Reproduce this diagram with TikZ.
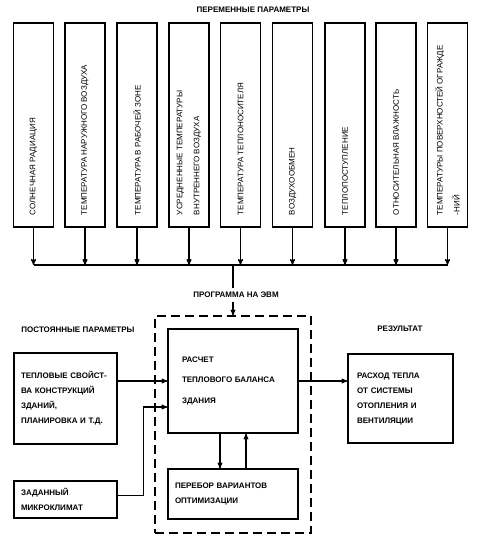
\documentclass[tikz,border=0pt]{standalone}
\usepackage{fontspec}
\setmainfont{Liberation Sans}
\usetikzlibrary{arrows}
\newcommand{\vtext}[1]{\rotatebox{90}{\parbox{180pt}{\fontsize{8}{17}\selectfont\raggedright #1}}}

\begin{document}
\begin{tikzpicture}[x=1pt,y=-1pt,>=stealth',line width=1.1pt,
  param/.style={rectangle,draw,minimum width=40pt,inner xsep=0pt,inner ysep=12pt},
  block/.style={rectangle,draw,align=left,
  font=\bfseries\fontsize{8}{15}\selectfont},
  heading/.style={font=\bfseries\fontsize{8}{10}\selectfont}]

  \useasboundingbox (0,0) rectangle (476,540);

  \node[heading] (var) at (253,10) {ПЕРЕМЕННЫЕ ПАРАМЕТРЫ};

  \node[param] (b1) at (33.5,125) {\vtext{СОЛНЕЧНАЯ РАДИАЦИЯ}};
  \node[param] (b2) at (85,125) {\vtext{ТЕМПЕРАТУРА НАРУЖНОГО ВОЗДУХА}};
  \node[param] (b3) at (137,125) {\vtext{ТЕМПЕРАТУРА В РАБОЧЕЙ ЗОНЕ}};
  \node[param] (b4) at (189,125) {\vtext{УСРЕДНЕННЫЕ ТЕМПЕРАТУРЫ\\ВНУТРЕННЕГО ВОЗДУХА}};
  \node[param] (b5) at (240.5,125) {\vtext{ТЕМПЕРАТУРА ТЕПЛОНОСИТЕЛЯ}};
  \node[param] (b6) at (292.5,125) {\vtext{ВОЗДУХООБМЕН}};
  \node[param] (b7) at (345,125) {\vtext{ТЕПЛОПОСТУПЛЕНИЕ}};
  \node[param] (b8) at (396,125) {\vtext{ОТНОСИТЕЛЬНАЯ ВЛАЖНОСТЬ}};
  \node[param] (b9) at (447.5,125) {\vtext{ТЕМПЕРАТУРЫ ПОВЕРХНОСТЕЙ ОГРАЖДЕ\\-НИЙ}};

  \coordinate (bus) at (233,265);
  \node[heading] (prog) at (236,295) {ПРОГРАММА НА ЭВМ};

  \node[draw,dash pattern=on 9pt off 5pt,minimum width=156pt,
  minimum height=217pt,inner sep=0pt] (frame) at (233,424.5) {};

  \node[heading] (const) at (78,330) {ПОСТОЯННЫЕ ПАРАМЕТРЫ};
  \node[heading] (res) at (400,329) {РЕЗУЛЬТАТ};

  \node[block,text width=89pt,inner xsep=7pt,minimum height=91pt] (props)
    at (65.5,398.5) {ТЕПЛОВЫЕ СВОЙСТ-\\ВА КОНСТРУКЦИЙ\\ЗДАНИЙ,\\ПЛАНИРОВКА И Т.Д.};
  \node[block,text width=89pt,inner xsep=7pt,minimum height=37pt] (micro)
    at (65.5,499.5) {ЗАДАННЫЙ\\МИКРОКЛИМАТ};
  \node[block,text width=102pt,inner xsep=14pt,minimum height=104pt,
  font=\bfseries\fontsize{8}{20}\selectfont] (calc)
    at (233,381) {РАСЧЕТ\\ТЕПЛОВОГО БАЛАНСА\\ЗДАНИЯ};
  \node[block,text width=116pt,inner xsep=7pt,minimum height=50pt] (optim)
    at (233,494) {ПЕРЕБОР ВАРИАНТОВ\\ОПТИМИЗАЦИИ};
  \node[block,text width=87pt,inner xsep=9pt,minimum height=89pt] (result)
    at (400.5,398.5) {РАСХОД ТЕПЛА\\ОТ СИСТЕМЫ\\ОТОПЛЕНИЯ И\\ВЕНТИЛЯЦИИ};

  \draw (b1.south |- bus) -- (b9.south |- bus);
  \path[->]
    (b1.south) edge (b1.south |- bus)
    (b2.south) edge (b2.south |- bus)
    (b3.south) edge (b3.south |- bus)
    (b4.south) edge (b4.south |- bus)
    (b5.south) edge (b5.south |- bus)
    (b6.south) edge (b6.south |- bus)
    (b7.south) edge (b7.south |- bus)
    (b8.south) edge (b8.south |- bus)
    (b9.south) edge (b9.south |- bus);

  \draw (bus) -- (prog.north -| bus);
  \draw[->] (prog.south -| bus) -- (frame.north -| bus);

  \coordinate (mcin) at ([yshift=-26pt]calc.west);
  \path[->]
    (props.east |- calc.west) edge (calc.west)
    (calc.east) edge (calc.east -| result.west)
    ([xshift=-13pt]calc.south) edge ([xshift=-13pt]optim.north)
    ([xshift=13pt]optim.north) edge ([xshift=13pt]calc.south);
  \draw[->] ([yshift=4pt]micro.east) -- +(26,0) |- (mcin);

\end{tikzpicture}
\end{document}
